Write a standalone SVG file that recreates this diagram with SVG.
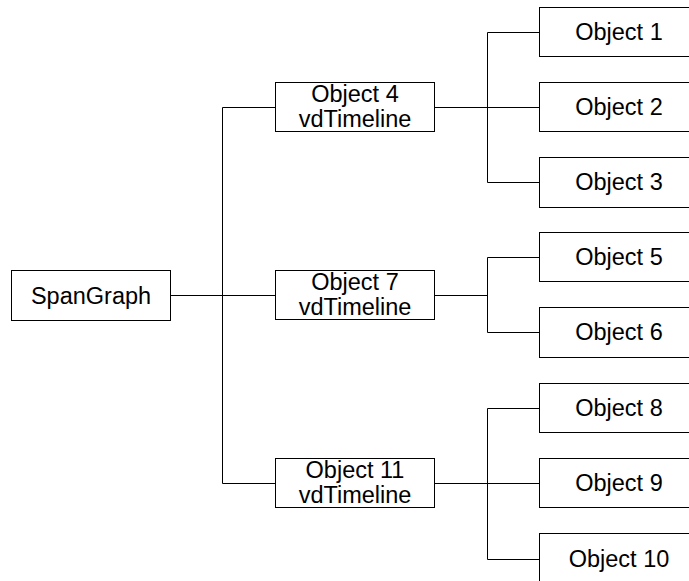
<svg xmlns="http://www.w3.org/2000/svg" width="689" height="581" viewBox="0 0 689 581">
<style>
rect{fill:#fff;stroke:#000;stroke-width:1}
text{font-family:"Liberation Sans",Arial,sans-serif;font-size:23.5px;fill:#000;text-anchor:middle}
.c{fill:none;stroke:#000;stroke-width:1}
</style>
<rect x="0" y="0" width="689" height="581" style="stroke:none"/>
<g id="connectors">
<path class="c" d="M170.5 295.5H275.5M222.5 107.5V483.5M222.5 107.5H275.5M222.5 483.5H275.5"/>
<path class="c" d="M434.5 107.5H539.5M487.5 32.5V182.5M487.5 32.5H539.5M487.5 182.5H539.5"/>
<path class="c" d="M434.5 295.5H487.5M487.5 257.5V332.5M487.5 257.5H539.5M487.5 332.5H539.5"/>
<path class="c" d="M434.5 483.5H539.5M487.5 408.5V559.5M487.5 408.5H539.5M487.5 559.5H539.5"/>
</g>
<g id="spangraph"><rect x="11.5" y="270.5" width="159" height="50"/><text x="91" y="303.5">SpanGraph</text></g>
<g id="obj4"><rect x="275.5" y="82.5" width="159" height="49"/><text x="355" y="102">Object 4</text><text x="355" y="127">vdTimeline</text></g>
<g id="obj7"><rect x="275.5" y="270.5" width="159" height="49"/><text x="355" y="290">Object 7</text><text x="355" y="315">vdTimeline</text></g>
<g id="obj11"><rect x="275.5" y="458.5" width="159" height="49"/><text x="355" y="478">Object 11</text><text x="355" y="503">vdTimeline</text></g>
<g id="obj1"><rect x="539.5" y="7.5" width="160" height="49"/><text x="619" y="40">Object 1</text></g>
<g id="obj2"><rect x="539.5" y="82.5" width="160" height="49"/><text x="619" y="115">Object 2</text></g>
<g id="obj3"><rect x="539.5" y="157.5" width="160" height="50"/><text x="619" y="190">Object 3</text></g>
<g id="obj5"><rect x="539.5" y="232.5" width="160" height="49"/><text x="619" y="265">Object 5</text></g>
<g id="obj6"><rect x="539.5" y="307.5" width="160" height="50"/><text x="619" y="340">Object 6</text></g>
<g id="obj8"><rect x="539.5" y="383.5" width="160" height="49"/><text x="619" y="416">Object 8</text></g>
<g id="obj9"><rect x="539.5" y="458.5" width="160" height="49"/><text x="619" y="491">Object 9</text></g>
<g id="obj10"><rect x="539.5" y="533.5" width="160" height="52"/><text x="619" y="567">Object 10</text></g>
</svg>
